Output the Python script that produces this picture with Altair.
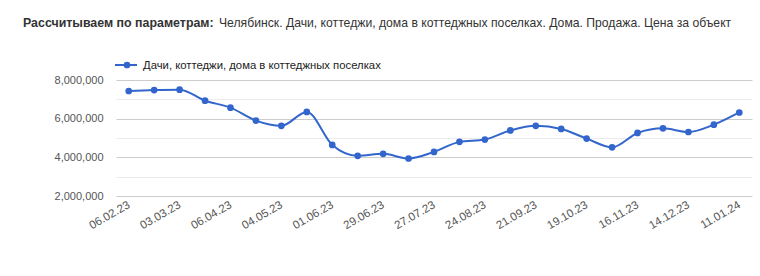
import altair as alt
import pandas as pd

dates = ["06.02.23", "17.02.23", "03.03.23", "20.03.23", "06.04.23", "20.04.23",
         "04.05.23", "18.05.23", "01.06.23", "15.06.23", "29.06.23", "13.07.23",
         "27.07.23", "10.08.23", "24.08.23", "07.09.23", "21.09.23", "05.10.23",
         "19.10.23", "02.11.23", "16.11.23", "30.11.23", "14.12.23", "28.12.23",
         "11.01.24"]
prices = [7430000, 7480000, 7500000, 6930000, 6570000, 5900000, 5630000, 6350000,
          4640000, 4080000, 4180000, 3940000, 4280000, 4800000, 4920000, 5390000,
          5630000, 5470000, 4970000, 4520000, 5260000, 5500000, 5310000, 5690000,
          6320000]
tick_labels = dates[::2]
series_name = "Дачи, коттеджи, дома в коттеджных поселках"
title_bold = "Рассчитываем по параметрам:"
title_rest = "Челябинск. Дачи, коттеджи, дома в коттеджных поселках. Дома. Продажа. Цена за объект"

FONT = "Arial, Liberation Sans, sans-serif"
BLUE = "#3366cc"

df = pd.DataFrame({"date": dates, "price": prices})

x_enc = alt.X("date:N", sort=dates, title=None,
              scale=alt.Scale(paddingInner=0, paddingOuter=0),
              axis=alt.Axis(values=tick_labels, labelAngle=-30, labelAlign="right",
                            labelBaseline="middle", labelPadding=8, ticks=False,
                            domain=False, grid=False, labelFont=FONT, labelFontSize=11.5,
                            labelColor="#555"))
y_enc = alt.Y("price:Q", title=None,
              scale=alt.Scale(domain=[2000000, 8000000], nice=False, zero=False),
              axis=alt.Axis(values=[2000000, 3000000, 4000000, 5000000, 6000000, 7000000, 8000000],
                            labelExpr="datum.value % 2000000 === 0 ? format(datum.value, ',') : ''",
                            gridColor={"condition": {"test": "datum.value % 2000000 === 0", "value": "#cccccc"},
                                       "value": "#ebebeb"},
                            ticks=False, domain=False, labelFont=FONT, labelFontSize=11,
                            labelColor="#555", labelPadding=13))

line = alt.Chart(df).mark_line(color=BLUE, strokeWidth=2, interpolate="monotone").encode(x=x_enc, y=y_enc)
pts = alt.Chart(df).mark_point(color=BLUE, filled=True, opacity=1, size=45).encode(x=x_enc, y=y_enc)

tdf = pd.DataFrame({"t": [title_bold]})
t1 = alt.Chart(tdf).mark_text(align="left", baseline="alphabetic", font=FONT, fontSize=12.4,
                              fontWeight="bold", color="#333").encode(
    text="t", x=alt.value(-93), y=alt.value(-53))
t2df = pd.DataFrame({"t": [title_rest]})
t2 = alt.Chart(t2df).mark_text(align="left", baseline="alphabetic", font=FONT, fontSize=12.2,
                               color="#333").encode(
    text="t", x=alt.value(103), y=alt.value(-53))

ldf = pd.DataFrame({"t": [series_name]})
lrule = alt.Chart(ldf).mark_rule(color=BLUE, strokeWidth=2).encode(
    x=alt.value(-1), x2=alt.value(21), y=alt.value(-15))
lpt = alt.Chart(ldf).mark_point(color=BLUE, filled=True, opacity=1, size=45).encode(
    x=alt.value(11), y=alt.value(-15))
ltxt = alt.Chart(ldf).mark_text(align="left", baseline="alphabetic", font=FONT, fontSize=11.3,
                                color="#222").encode(
    text="t", x=alt.value(27), y=alt.value(-11.5))

chart = alt.layer(line, pts, t1, t2, lrule, lpt, ltxt).properties(
    width=636, height=116,
    background="white",
    autosize=alt.AutoSizeParams(type="none"),
    padding={"left": 116, "top": 80, "right": 8, "bottom": 80},
).configure_view(stroke=None)

chart.save("out.html", embed_options={"renderer": "svg", "actions": False})
